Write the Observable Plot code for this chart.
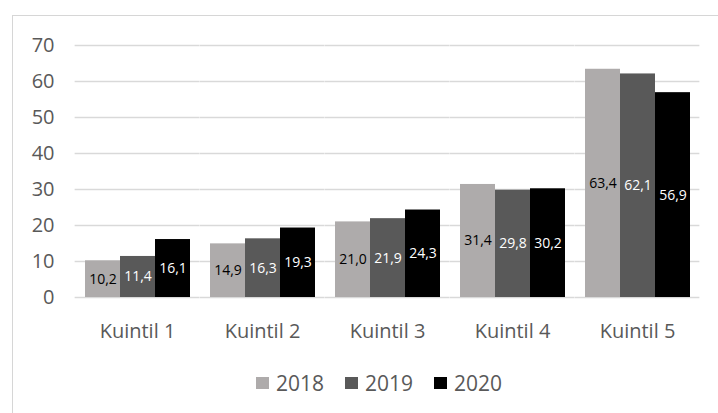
<!DOCTYPE html>
<html>
<head>
<meta charset="utf-8">
<script src="https://cdn.jsdelivr.net/npm/d3@7"></script>
<script src="https://cdn.jsdelivr.net/npm/@observablehq/plot@0.6"></script>
<style>
  html, body { margin: 0; padding: 0; background: #ffffff; width: 718px; height: 413px; overflow: hidden; }
  #frame { position: absolute; left: 12px; top: 15px; width: 760px; height: 500px; border: 1px solid #d6d6d6; box-sizing: border-box; }
  #chart { position: absolute; left: 0; top: 0; }
  #legend { position: absolute; left: 256px; top: 371px; display: flex; align-items: center; font-family: "Open Sans", sans-serif; font-size: 21px; color: #595959; line-height: 24px; }
  .item { display: flex; align-items: center; margin-right: 21px; }
  .sw { width: 13px; height: 12px; margin-right: 7px; }
</style>
</head>
<body>
<div id="frame"></div>
<div id="chart"></div>
<div id="legend"></div>
<script>
const quintiles = ["Kuintil 1", "Kuintil 2", "Kuintil 3", "Kuintil 4", "Kuintil 5"];
const years = ["2018", "2019", "2020"];
const values2018 = [10.2, 14.9, 21.0, 31.4, 63.4];
const values2019 = [11.4, 16.3, 21.9, 29.8, 62.1];
const values2020 = [16.1, 19.3, 24.3, 30.2, 56.9];
const yTicks = [0, 10, 20, 30, 40, 50, 60, 70];
const barColors = ["#aeabab", "#595959", "#000000"];
const labelColors = ["#000000", "#ffffff", "#ffffff"];

const series = [values2018, values2019, values2020];
const data = [];
quintiles.forEach((q, i) => {
  years.forEach((y, j) => {
    data.push({q, year: y, v: series[j][i], lc: labelColors[j]});
  });
});

const fmt = v => v.toFixed(1).replace(".", ",");

const chart = Plot.plot({
  width: 718,
  height: 350,
  marginLeft: 75,
  marginRight: 18,
  marginTop: 45,
  marginBottom: 53,
  style: {fontFamily: "Open Sans", background: "transparent", overflow: "visible"},
  fx: {domain: quintiles, paddingInner: 0.15, paddingOuter: 0.075, label: null},
  x: {domain: years, padding: 0, axis: null},
  y: {domain: [0, 70], axis: null},
  color: {domain: years, range: barColors},
  marks: [
    Plot.ruleY(yTicks, {stroke: "#d9d9d9", strokeWidth: 1.3, insetLeft: -9.375, insetRight: -9.375}),
    Plot.barY(data, {fx: "q", x: "year", y: "v", fill: "year"}),
    Plot.text(data, {fx: "q", x: "year", y: d => d.v / 2, text: d => fmt(d.v), fill: "lc", fontSize: 14}),
    Plot.axisY({ticks: yTicks, tickSize: 0, tickPadding: 30, fontSize: 20, color: "#595959", label: null}),
    Plot.axisFx({anchor: "bottom", tickSize: 0, tickPadding: 26, fontSize: 20, color: "#595959", label: null})
  ]
});
document.getElementById("chart").appendChild(chart);

const legend = document.getElementById("legend");
years.forEach((y, j) => {
  const item = document.createElement("div");
  item.className = "item";
  const sw = document.createElement("div");
  sw.className = "sw";
  sw.style.background = barColors[j];
  const t = document.createElement("span");
  t.textContent = y;
  item.appendChild(sw);
  item.appendChild(t);
  legend.appendChild(item);
});
</script>
</body>
</html>
